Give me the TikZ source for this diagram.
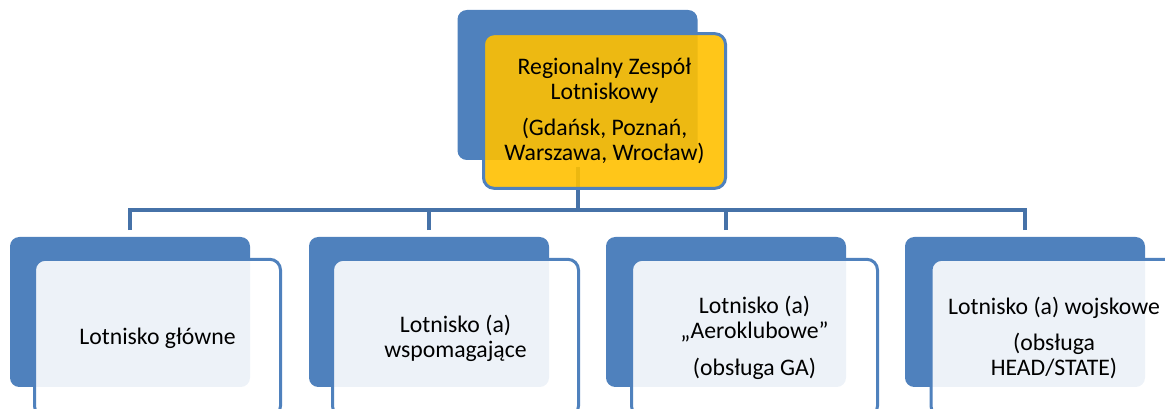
\documentclass[tikz,border=0pt]{standalone}
\usepackage{fontspec}
\setmainfont{Carlito}
\definecolor{boxblue}{HTML}{4F81BD}
\definecolor{linkblue}{HTML}{4672A8}
\definecolor{gold}{HTML}{FFC000}
\begin{document}
\begin{tikzpicture}[x=0.75pt, y=-0.75pt,
    back/.style={rectangle, rounded corners=7pt, fill=boxblue, minimum width=180pt, minimum height=112.5pt},
    front/.style={rectangle, rounded corners=8pt, draw=boxblue, line width=2.25pt, fill=white, fill opacity=0.9, text opacity=1,
        minimum width=184.5pt, minimum height=118pt, align=center, font=\fontsize{17.8}{18.75}\selectfont},
    conn/.style={draw=linkblue, line width=3pt, shorten <=5pt}]
    \useasboundingbox (0,0) rectangle (1165,409);
    \clip (0,0) rectangle (1165,409);
    \node[back] (rzl) at (577.5,85) {};
    \node[back] (glowne) at (130,312) {};
    \node[back] (wspom) at (429,312) {};
    \node[back] (aero) at (726,312) {};
    \node[back] (wojsk) at (1025,312) {};
    \coordinate (bus) at (577.5,210);
    \draw[conn] (rzl.south) -- (bus);
    \foreach \b in {glowne,wspom,aero,wojsk} \draw[conn] (\b.north) |- (bus);
    \node[front, fill=gold, minimum width=181.5pt, minimum height=116pt] (rzlt) at (604.5,111) {Regionalny Zespół\\Lotniskowy\\[8.5pt](Gdańsk, Poznań,\\Warszawa, Wrocław)};
    \node[front] (glownet) at (157.5,338) {Lotnisko główne};
    \node[front] (wspomt) at (455.5,338) {Lotnisko (a)\\wspomagające};
    \node[front] (aerot) at (754.5,338) {Lotnisko (a)\\„Aeroklubowe”\\[8.5pt](obsługa GA)};
    \node[front] (wojskt) at (1054,338) {Lotnisko (a) wojskowe\\[8.5pt](obsługa\\HEAD/STATE)};
\end{tikzpicture}
\end{document}
